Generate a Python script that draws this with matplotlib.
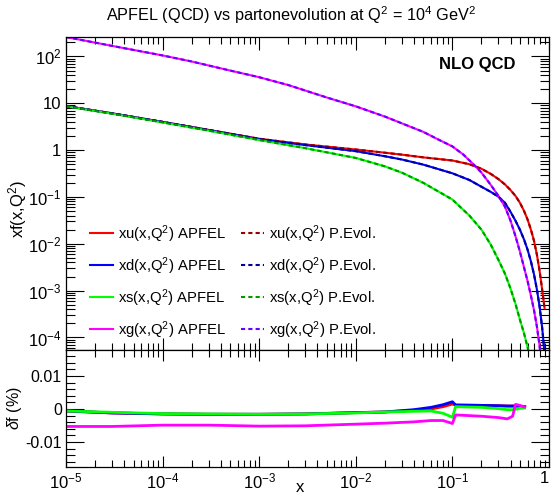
import numpy as np
import matplotlib
matplotlib.use("Agg")
import matplotlib.pyplot as plt
from matplotlib.ticker import LogLocator, FuncFormatter, MultipleLocator, NullFormatter

plt.rcParams['font.family'] = ['Liberation Sans', 'DejaVu Sans']
plt.rcParams['mathtext.fontset'] = 'custom'
plt.rcParams['mathtext.rm'] = 'Liberation Sans'
plt.rcParams['mathtext.it'] = 'Liberation Sans:italic'
plt.rcParams['mathtext.bf'] = 'Liberation Sans:bold'

# quark PDFs
x_q = [1e-5, 3e-5, 1e-4, 3e-4, 1e-3, 3e-3, 1e-2, 2e-2, 3e-2, 5e-2, 0.1, 0.15,
       0.2, 0.25, 0.3, 0.35, 0.4, 0.45, 0.5, 0.55, 0.6, 0.65, 0.7, 0.75, 0.8, 0.85, 0.9]
xu = [8.7, 6.1, 4.0, 2.7, 1.75, 1.32, 1.03, 0.88, 0.80, 0.70, 0.60, 0.50,
      0.40, 0.31, 0.24, 0.185, 0.14, 0.105, 0.075, 0.051, 0.033, 0.020, 0.0115,
      5.8e-3, 2.6e-3, 1.05e-3, 4.2e-4]
xd = [8.7, 6.1, 4.0, 2.68, 1.72, 1.28, 0.95, 0.74, 0.63, 0.49, 0.32, 0.23,
      0.165, 0.128, 0.101, 0.075, 0.048, 0.031, 0.020, 0.0125, 7.5e-3, 4.2e-3,
      2.2e-3, 1.05e-3, 4.5e-4, 1.6e-4, 4.5e-5]
xs = [8.6, 6.0, 3.9, 2.6, 1.64, 1.10, 0.68, 0.45, 0.33, 0.20, 0.088, 0.040,
      0.020, 0.0095, 4.5e-3, 2.3e-3, 1.1e-3, 5.2e-4, 2.4e-4, 1.25e-4, 6.2e-5, 2.8e-5,
      1.2e-5, 4e-6, 1e-6, 2e-7, 3e-8]

# gluon
x_g = [1e-5, 3e-5, 1e-4, 2e-4, 5e-4, 1e-3, 2e-3, 5e-3, 1e-2, 2e-2, 5e-2, 7e-2,
       0.1, 0.13, 0.17, 0.2, 0.25, 0.3, 0.35, 0.4, 0.45, 0.5, 0.55, 0.6, 0.65,
       0.7, 0.75, 0.8, 0.85]
xg = [260, 168, 105, 78, 50, 36, 24.5, 13.3, 8.6, 5.2, 2.45, 1.72,
      1.2, 0.80, 0.47, 0.33, 0.18, 0.105, 0.062, 0.031, 0.0145, 6.8e-3, 3.2e-3,
      1.6e-3, 7.8e-4, 3.8e-4, 1.7e-4, 6.5e-5, 1.8e-5]

# relative differences APFEL vs P.Evol. in %
x_diff = [1e-5, 3e-5, 1e-4, 3e-4, 1e-3, 3e-3, 1e-2, 2e-2, 4e-2, 6e-2, 8e-2, 0.1,
          0.108, 0.2, 0.3, 0.37, 0.42, 0.45, 0.5, 0.56]
du = [-0.0006, -0.0012, -0.0015, -0.0016, -0.0016, -0.0015, -0.0011, -0.0009, -0.0004, 0.0,
      0.0007, 0.0015, 0.0012, 0.0011, 0.0010, 0.0009, 0.0009, 0.0009, 0.0008, 0.0007]
dd = [-0.0006, -0.0012, -0.0015, -0.0016, -0.0016, -0.0015, -0.0011, -0.0009, -0.0002, 0.0005,
      0.0013, 0.0022, 0.0012, 0.0011, 0.0010, 0.0009, 0.0009, 0.0009, 0.0008, 0.0007]
ds = [-0.0006, -0.0010, -0.0014, -0.0015, -0.0016, -0.0015, -0.0012, -0.0009, -0.0007, -0.0006,
      -0.0013, -0.0025, 0.0007, 0.0005, 0.0001, -0.0002, -0.0002, -0.0001, 0.0002, 0.0003]
dg = [-0.0053, -0.0053, -0.0049, -0.0049, -0.0052, -0.0051, -0.0046, -0.0043, -0.0039, -0.0035,
      -0.0035, -0.0044, -0.0018, -0.0022, -0.0026, -0.0030, -0.0022, 0.0014, 0.0011, 0.0006]

x_ticks = [1e-5, 1e-4, 1e-3, 1e-2, 1e-1, 1]
x_ticklabels = ['$10^{-5}$', '$10^{-4}$', '$10^{-3}$', '$10^{-2}$', '$10^{-1}$', '1']

apfel_cols = ['#ff0000', '#0000ff', '#00ff00', '#ff00ff']
pevol_cols = ['#990000', '#000099', '#009900', '#6600ff']
names = ['u', 'd', 's', 'g']

W, H = 553, 496
fig = plt.figure(figsize=(W / 100, H / 100), dpi=100)
left, right = 66 / W, 549 / W
top, mid, bot = 1 - 36.7 / H, 1 - 350 / H, 1 - 467 / H
ax1 = fig.add_axes([left, mid, right - left, top - mid])
ax2 = fig.add_axes([left, bot, right - left, mid - bot], sharex=ax1)

curves = [(x_q, xu), (x_q, xd), (x_q, xs), (x_g, xg)]
h_apfel, h_pevol = [], []
for (xx, f), c, n in zip(curves, apfel_cols, names):
    l, = ax1.plot(xx, f, color=c, lw=1.5, label=f'x{n}(x,Q$^2$) APFEL')
    h_apfel.append(l)
for (xx, f), c, n in zip(curves, pevol_cols, names):
    l, = ax1.plot(xx, f, color=c, lw=1.5, ls=(0, (2, 1.5)), label=f'x{n}(x,Q$^2$) P.Evol.')
    h_pevol.append(l)

for d, c in zip([du, dd, ds, dg], apfel_cols):
    ax2.plot(x_diff, d, color=c, lw=2)


def logfmt(v, pos):
    e = int(round(np.log10(v)))
    if e == 0:
        return '1'
    if e == 1:
        return '10'
    return r'$10^{%d}$' % e


for ax in (ax1, ax2):
    ax.set_xscale('log')
    ax.set_xlim(1e-5, 1)
    ax.xaxis.set_minor_locator(LogLocator(base=10, subs=np.arange(2, 10), numticks=20))
    ax.tick_params(which='both', direction='in', top=True, right=True, width=0.8, labelsize=12)
    for s in ax.spines.values():
        s.set_linewidth(0.9)

ax2.set_xticks(x_ticks, x_ticklabels)
ax2.xaxis.set_minor_formatter(NullFormatter())

ax1.set_yscale('log')
ax1.set_ylim(5.4e-5, 264)
ax1.yaxis.set_major_locator(LogLocator(base=10, numticks=12))
ax1.yaxis.set_minor_locator(LogLocator(base=10, subs=np.arange(2, 10), numticks=20))
ax1.yaxis.set_major_formatter(FuncFormatter(logfmt))
ax1.yaxis.set_minor_formatter(NullFormatter())
ax1.tick_params(axis='x', which='major', length=9, labelbottom=False)
ax1.tick_params(axis='x', which='minor', length=5)
ax1.tick_params(axis='y', which='major', length=13)
ax1.tick_params(axis='y', which='minor', length=6.5)
ax1.set_ylabel('xf(x,Q$^2$)', fontsize=12)
ax1.yaxis.label.set_va('center')
ax1.yaxis.set_label_coords((18 - 66) / 483, 0.45)

ax2.set_ylim(-0.0176, 0.0179)
ax2.yaxis.set_major_locator(MultipleLocator(0.01))
ax2.yaxis.set_minor_locator(MultipleLocator(0.002))
ax2.yaxis.set_major_formatter(FuncFormatter(lambda v, p: '0' if abs(v) < 1e-9 else '%g' % v))
ax2.tick_params(axis='y', which='major', labelsize=11.5, pad=3)
ax2.tick_params(axis='x', which='major', length=8, pad=3)
ax2.tick_params(axis='x', which='minor', length=5)
ax2.tick_params(axis='y', which='major', length=13)
ax2.tick_params(axis='y', which='minor', length=6.5)
ax2.set_ylabel(r'$\delta$f (%)', fontsize=11.5)
ax2.yaxis.label.set_va('center')
ax2.yaxis.set_label_coords((15 - 66) / 483, 0.5)
ax2.set_xlabel('x', fontsize=12)
ax2.xaxis.label.set_va('center')
ax2.xaxis.set_label_coords((300 - 66) / 483, -(488 - 467) / 117)
ax2.get_xticklabels()[-1].set_ha('right')

ax1.legend(handles=h_apfel + h_pevol, ncol=2, loc='upper left',
           bbox_to_anchor=((90 - 66) / 483, (350 - 223) / 313.3), frameon=False, fontsize=10.7,
           handlelength=1.55, handletextpad=0.34, columnspacing=1.0,
           labelspacing=0.7, borderaxespad=0, borderpad=0)

ax1.text(0.93, (350 - 65) / 313.3, 'NLO QCD', transform=ax1.transAxes, ha='right', va='center',
         fontsize=12, fontweight='bold')

fig.text(291 / W, 1 - 15 / H, 'APFEL (QCD) vs partonevolution at Q$^2$ = 10$^4$ GeV$^2$',
         ha='center', va='center', fontsize=11.7)

fig.savefig('out.png', dpi=100)
